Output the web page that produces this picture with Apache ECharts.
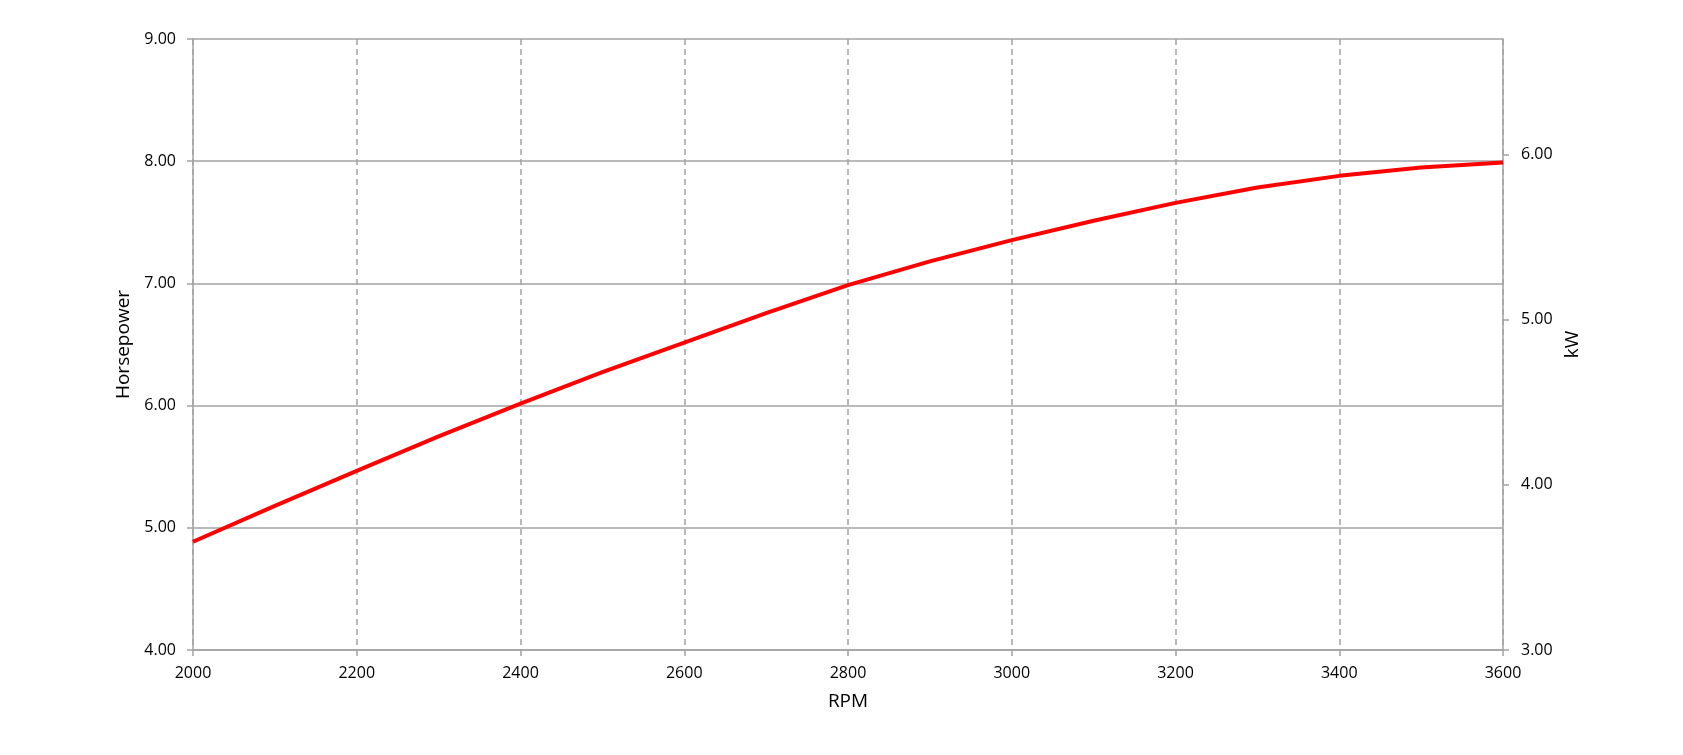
<!DOCTYPE html>
<html>
<head>
<meta charset="utf-8">
<script src="https://cdn.jsdelivr.net/npm/echarts@6/dist/echarts.min.js"></script>
<style>
  html, body { margin: 0; padding: 0; background: #ffffff; }
  #chart { width: 1683px; height: 755px; }
</style>
</head>
<body>
<div id="chart"></div>
<script>
const rpm = [2000, 2100, 2200, 2300, 2400, 2500, 2600, 2700, 2800, 2900, 3000, 3100, 3200, 3300, 3400, 3500, 3600];
const horsepower = [4.886, 5.18, 5.466, 5.748, 6.016, 6.273, 6.515, 6.757, 6.986, 7.18, 7.354, 7.513, 7.659, 7.785, 7.88, 7.948, 7.99];
const kwTicks = [3, 4, 5, 6];

const gray = "#a3a3a3";
const font = "Open Sans";

const chart = echarts.init(document.querySelector("#chart"));

chart.setOption({
  backgroundColor: "#ffffff",
  animation: false,
  grid: { left: 193, right: 180, top: 39, bottom: 105 },
  xAxis: {
    type: "value",
    min: 2000,
    max: 3600,
    interval: 200,
    name: "RPM",
    nameLocation: "middle",
    nameGap: 42,
    nameTextStyle: { color: "#000", fontFamily: font, fontSize: 19 },
    axisLine: { lineStyle: { color: gray, width: 1.5 } },
    axisTick: { show: true, inside: false, length: 6, lineStyle: { color: gray, width: 1.5 } },
    axisLabel: { color: "#000", fontFamily: font, fontSize: 16, margin: 15, formatter: (v) => String(v) },
    splitLine: { show: true, lineStyle: { color: gray, width: 1.5, type: [6, 4] } }
  },
  yAxis: [
    {
      type: "value",
      position: "left",
      min: 4,
      max: 9,
      interval: 1,
      name: "Horsepower",
      nameLocation: "middle",
      nameRotate: 90,
      nameGap: 56,
      nameTextStyle: { color: "#000", fontFamily: font, fontSize: 19 },
      axisLine: { show: true, lineStyle: { color: gray, width: 1.5 } },
      axisTick: { show: true, inside: false, length: 6, lineStyle: { color: gray, width: 1.5 } },
      axisLabel: {
        color: "#000", fontFamily: font, fontSize: 16, margin: 17,
        formatter: (v) => v.toFixed(2)
      },
      splitLine: { show: true, lineStyle: { color: gray, width: 1.5 } }
    },
    {
      type: "value",
      position: "right",
      min: 3,
      max: 6.7,
      name: "kW",
      nameLocation: "middle",
      nameRotate: 90,
      nameGap: 60,
      nameTextStyle: { color: "#000", fontFamily: font, fontSize: 19 },
      axisLine: { show: true, lineStyle: { color: gray, width: 1.5 } },
      axisTick: { show: true, inside: false, length: 6, customValues: kwTicks, lineStyle: { color: gray, width: 1.5 } },
      axisLabel: {
        color: "#000", fontFamily: font, fontSize: 16, margin: 18,
        customValues: kwTicks,
        formatter: (v) => v.toFixed(2)
      },
      splitLine: { show: false }
    }
  ],
  series: [
    {
      name: "Horsepower",
      type: "line",
      yAxisIndex: 0,
      data: rpm.map((r, i) => [r, horsepower[i]]),
      smooth: false,
      showSymbol: false,
      lineStyle: { color: "#ff0000", width: 4, join: "round" }
    }
  ]
});
</script>
</body>
</html>
